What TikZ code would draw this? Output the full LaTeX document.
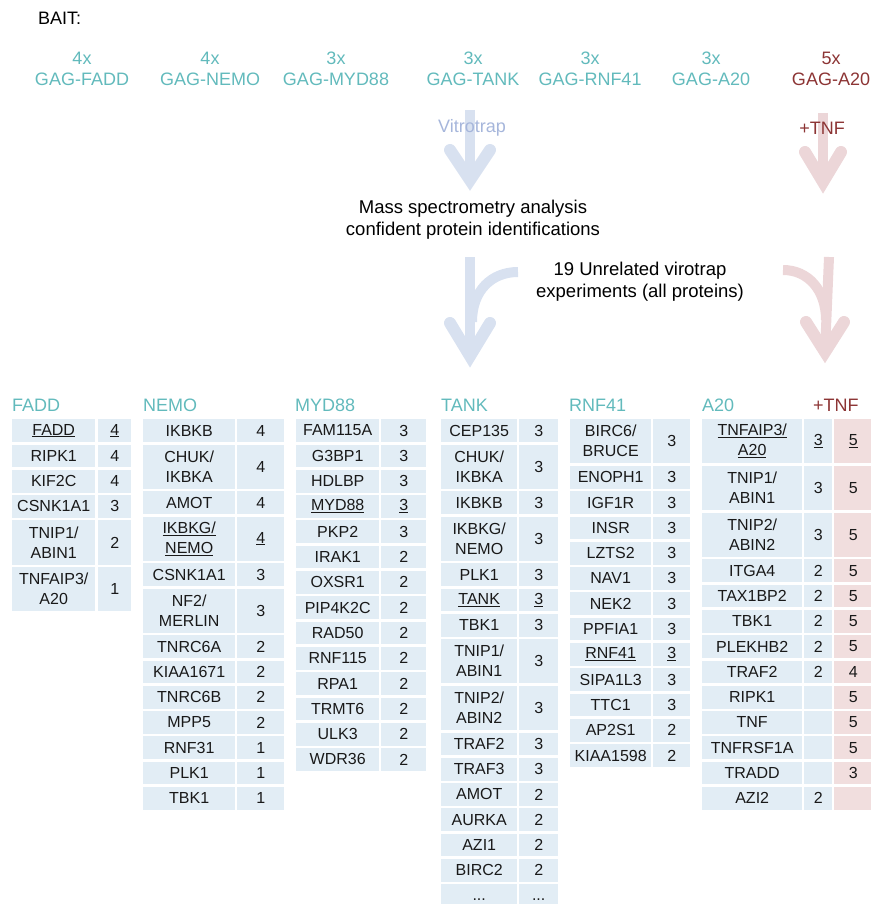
\documentclass[tikz,border=0pt]{standalone}
\usepackage{fontspec}
\setmainfont{Liberation Sans}
\definecolor{teal1}{RGB}{98,186,188}
\definecolor{darkred1}{RGB}{140,52,52}
\definecolor{vitro}{RGB}{166,182,219}
\definecolor{arrblue}{RGB}{216,225,240}
\definecolor{arrred}{RGB}{236,214,216}
\definecolor{cellblue}{RGB}{226,237,245}
\definecolor{cellred}{RGB}{241,222,222}
\definecolor{celltext}{RGB}{25,25,25}
\newcounter{rowi}
\newcommand\setcols[5]{\gdef\tabid{#1}\gdef\nxa{#2}\gdef\nw{#3}\gdef\cxa{#4}\gdef\cw{#5}\setcounter{rowi}{0}\gdef\curY{419}}
\newcommand\crow[3]{\stepcounter{rowi}%
 \node[cellbox,fill=cellblue,minimum width=\nw pt,minimum height=#1pt] (\tabid n\arabic{rowi}) at (\nxa,\curY) {#2};%
 \node[cellbox,fill=cellblue,minimum width=\cw pt,minimum height=#1pt] (\tabid c\arabic{rowi}) at (\cxa,\curY) {#3};%
 \pgfmathsetmacro\tmpY{\curY+#1+2.6}\xdef\curY{\tmpY}}
\newcommand\crowT[4]{\stepcounter{rowi}%
 \node[cellbox,fill=cellblue,minimum width=\nw pt,minimum height=#1pt] (\tabid n\arabic{rowi}) at (\nxa,\curY) {#2};%
 \node[cellbox,fill=cellblue,minimum width=\cw pt,minimum height=#1pt] (\tabid c\arabic{rowi}) at (\cxa,\curY) {#3};%
 \node[cellbox,fill=cellred,minimum width=38pt,minimum height=#1pt] (\tabid t\arabic{rowi}) at (834,\curY) {#4};%
 \pgfmathsetmacro\tmpY{\curY+#1+2.6}\xdef\curY{\tmpY}}
\def\hsgl{22.7}
\def\hdbl{44.1}
\tikzset{
 cellbox/.style={anchor=north west, inner sep=0pt, align=center, text=celltext,
   font=\fontsize{16}{20}\selectfont},
 gagtxt/.style={align=center, text=teal1, font=\fontsize{18}{21}\selectfont},
 gagred/.style={align=center, text=darkred1, font=\fontsize{18}{21}\selectfont},
 tabhead/.style={anchor=west, inner sep=0pt, text=teal1, font=\fontsize{18}{21}\selectfont},
 midtxt/.style={align=center, text=black, font=\fontsize{18.5}{22}\selectfont},
 bshaft/.style={draw=arrblue, line width=10pt},
 bhead/.style={draw=arrblue, line width=12pt, line cap=round, miter limit=20},
 rshaft/.style={draw=arrred, line width=10pt},
 rhead/.style={draw=arrred, line width=12pt, line cap=round, miter limit=20},
}
\begin{document}
\begin{tikzpicture}[x=1pt,y=-1pt]
\useasboundingbox (0,0) rectangle (870,904);
% ---- arrows ----
\coordinate (b1top) at (470,110);
\coordinate (b1tip) at (470,180);
\coordinate (b1l) at (450,150);
\coordinate (b1r) at (490,150);
\draw[bshaft] (b1top) -- (b1tip);
\draw[bhead] (b1l) -- (b1tip) -- (b1r);
\coordinate (b2top) at (470,257);
\coordinate (b2tip) at (470,356);
\coordinate (b2l) at (450,323);
\coordinate (b2r) at (490,323);
\coordinate (b2cs) at (518,272);
\coordinate (b2ce) at (472,322);
\draw[bshaft] (b2top) -- (b2tip);
\draw[bshaft] (b2cs) .. controls (492,272) and (472,290) .. (b2ce);
\draw[bhead] (b2l) -- (b2tip) -- (b2r);
\coordinate (r1top) at (823,113);
\coordinate (r1tip) at (823,182);
\coordinate (r1l) at (805,152);
\coordinate (r1r) at (841,152);
\draw[rshaft] (r1top) -- (r1tip);
\draw[rhead] (r1l) -- (r1tip) -- (r1r);
\coordinate (r2top) at (829,257);
\coordinate (r2tip) at (825,352);
\coordinate (r2l) at (806,322);
\coordinate (r2r) at (844,322);
\coordinate (r2cs) at (783,270);
\coordinate (r2ce) at (826,320);
\draw[rshaft] (r2top) -- (r2tip);
\draw[rshaft] (r2cs) .. controls (808,270) and (826,290) .. (r2ce);
\draw[rhead] (r2l) -- (r2tip) -- (r2r);
% ---- top texts ----
\node[anchor=west, inner sep=0pt, font=\fontsize{18}{21}\selectfont] (bait) at (38,18) {BAIT:};
\node[gagtxt] (gfadd) at (82,68.5) {4x\\GAG-FADD};
\node[gagtxt] (gnemo) at (210,68.5) {4x\\GAG-NEMO};
\node[gagtxt] (gmyd) at (336,68.5) {3x\\GAG-MYD88};
\node[gagtxt] (gtank) at (473,68.5) {3x\\GAG-TANK};
\node[gagtxt] (grnf) at (590,68.5) {3x\\GAG-RNF41};
\node[gagtxt] (ga20) at (711,68.5) {3x\\GAG-A20};
\node[gagred] (ga20t) at (831,68.5) {5x\\GAG-A20};
\node[text=vitro, font=\fontsize{18}{21}\selectfont] (vitro) at (472,128) {Vitrotrap};
\node[text=darkred1, font=\fontsize{18}{21}\selectfont] (tnf) at (822,128) {+TNF};
\node[midtxt] (mass) at (473,220) {Mass spectrometry analysis\\confident protein identifications};
\node[midtxt] (unrel) at (640,282) {19 Unrelated virotrap\\experiments (all proteins)};
% ---- table headers ----
\node[tabhead] (hfadd) at (12,405) {FADD};
\node[tabhead] (hnemo) at (143,405) {NEMO};
\node[tabhead] (hmyd) at (295,405) {MYD88};
\node[tabhead] (htank) at (441,405) {TANK};
\node[tabhead] (hrnf) at (569,405) {RNF41};
\node[tabhead] (ha20) at (702,405) {A20};
\node[tabhead, text=darkred1] (htnf) at (813,405) {+TNF};
% ---- FADD ----
\setcols{fadd}{12}{83}{98}{33}
\crow{\hsgl}{\underline{FADD}}{\underline{4}}
\crow{\hsgl}{RIPK1}{4}
\crow{\hsgl}{KIF2C}{4}
\crow{\hsgl}{CSNK1A1}{3}
\crow{\hdbl}{TNIP1/\\ABIN1}{2}
\crow{\hdbl}{TNFAIP3/\\A20}{1}
% ---- NEMO ----
\setcols{nemo}{143}{92}{237}{47}
\crow{\hsgl}{IKBKB}{4}
\crow{\hdbl}{CHUK/\\IKBKA}{4}
\crow{\hsgl}{AMOT}{4}
\crow{\hdbl}{\underline{IKBKG/}\\\underline{NEMO}}{\underline{4}}
\crow{\hsgl}{CSNK1A1}{3}
\crow{\hdbl}{NF2/\\MERLIN}{3}
\crow{\hsgl}{TNRC6A}{2}
\crow{\hsgl}{KIAA1671}{2}
\crow{\hsgl}{TNRC6B}{2}
\crow{\hsgl}{MPP5}{2}
\crow{\hsgl}{RNF31}{1}
\crow{\hsgl}{PLK1}{1}
\crow{\hsgl}{TBK1}{1}
% ---- MYD88 ----
\setcols{myd}{296}{83}{381}{45}
\crow{\hsgl}{FAM115A}{3}
\crow{\hsgl}{G3BP1}{3}
\crow{\hsgl}{HDLBP}{3}
\crow{\hsgl}{\underline{MYD88}}{\underline{3}}
\crow{\hsgl}{PKP2}{3}
\crow{\hsgl}{IRAK1}{2}
\crow{\hsgl}{OXSR1}{2}
\crow{\hsgl}{PIP4K2C}{2}
\crow{\hsgl}{RAD50}{2}
\crow{\hsgl}{RNF115}{2}
\crow{\hsgl}{RPA1}{2}
\crow{\hsgl}{TRMT6}{2}
\crow{\hsgl}{ULK3}{2}
\crow{\hsgl}{WDR36}{2}
% ---- TANK ----
\setcols{tank}{441}{76}{519}{39}
\crow{\hsgl}{CEP135}{3}
\crow{\hdbl}{CHUK/\\IKBKA}{3}
\crow{\hsgl}{IKBKB}{3}
\crow{\hdbl}{IKBKG/\\NEMO}{3}
\crow{\hsgl}{PLK1}{3}
\crow{\hsgl}{\underline{TANK}}{\underline{3}}
\crow{\hsgl}{TBK1}{3}
\crow{\hdbl}{TNIP1/\\ABIN1}{3}
\crow{\hdbl}{TNIP2/\\ABIN2}{3}
\crow{\hsgl}{TRAF2}{3}
\crow{\hsgl}{TRAF3}{3}
\crow{\hsgl}{AMOT}{2}
\crow{\hsgl}{AURKA}{2}
\crow{\hsgl}{AZI1}{2}
\crow{\hsgl}{BIRC2}{2}
\crow{30}{\raisebox{-3pt}{...}}{\raisebox{-3pt}{...}}
% ---- RNF41 ----
\setcols{rnf}{570}{81}{653}{37}
\crow{\hdbl}{BIRC6/\\BRUCE}{3}
\crow{\hsgl}{ENOPH1}{3}
\crow{\hsgl}{IGF1R}{3}
\crow{\hsgl}{INSR}{3}
\crow{\hsgl}{LZTS2}{3}
\crow{\hsgl}{NAV1}{3}
\crow{\hsgl}{NEK2}{3}
\crow{\hsgl}{PPFIA1}{3}
\crow{\hsgl}{\underline{RNF41}}{\underline{3}}
\crow{\hsgl}{SIPA1L3}{3}
\crow{\hsgl}{TTC1}{3}
\crow{\hsgl}{AP2S1}{2}
\crow{\hsgl}{KIAA1598}{2}
% ---- A20 ----
\setcols{atw}{702}{100}{804}{28}
\crowT{\hdbl}{\underline{TNFAIP3/}\\\underline{A20}}{\underline{3}}{\underline{5}}
\crowT{\hdbl}{TNIP1/\\ABIN1}{3}{5}
\crowT{\hdbl}{TNIP2/\\ABIN2}{3}{5}
\crowT{\hsgl}{ITGA4}{2}{5}
\crowT{\hsgl}{TAX1BP2}{2}{5}
\crowT{\hsgl}{TBK1}{2}{5}
\crowT{\hsgl}{PLEKHB2}{2}{5}
\crowT{\hsgl}{TRAF2}{2}{4}
\crowT{\hsgl}{RIPK1}{}{5}
\crowT{\hsgl}{TNF}{}{5}
\crowT{\hsgl}{TNFRSF1A}{}{5}
\crowT{\hsgl}{TRADD}{}{3}
\crowT{\hsgl}{AZI2}{2}{}
\end{tikzpicture}
\end{document}
